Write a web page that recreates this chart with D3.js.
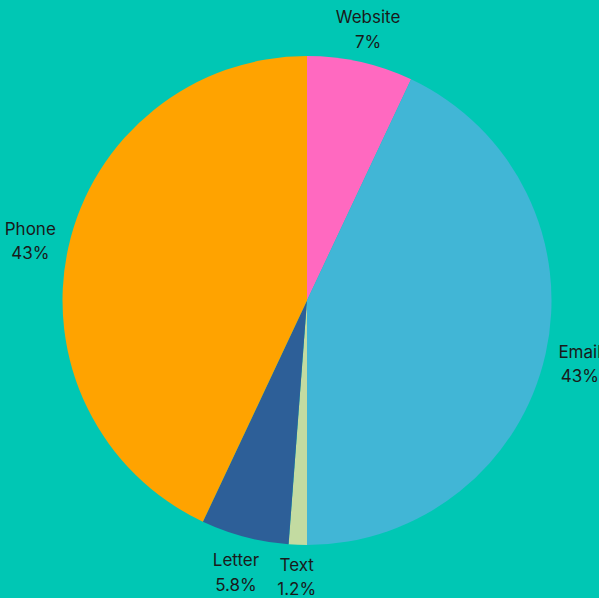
<!DOCTYPE html>
<html>
<head>
<meta charset="utf-8">
<script src="https://cdn.jsdelivr.net/npm/d3@7"></script>
<style>
html,body{margin:0;padding:0;background:#00C7B4;overflow:hidden;}
svg{display:block;}
</style>
</head>
<body>
<svg id="chart" width="599" height="598"></svg>
<script>
const categories = ["Website", "Email", "Text", "Letter", "Phone"];
const values = [7, 43, 1.2, 5.8, 43];
const valueLabels = ["7%", "43%", "1.2%", "5.8%", "43%"];
const colors = ["#FF69C0", "#41B6D6", "#C3DBA1", "#2D5F98", "#FFA300"];

const W = 599, H = 598;
const cx = 307, cy = 300.5, r = 244.5;
const labelGap = 10, labelBoxH = 38;
const svg = d3.select("#chart");
svg.append("rect").attr("width", W).attr("height", H).attr("fill", "#00C7B4");

const data = categories.map((c, i) => ({cat: c, value: values[i], label: valueLabels[i], color: colors[i]}));
const pie = d3.pie().value(d => d.value).sort(null);
const arc = d3.arc().innerRadius(0).outerRadius(r);

const g = svg.append("g").attr("transform", `translate(${cx},${cy})`);
const arcs = pie(data);
g.selectAll("path").data(arcs).join("path")
  .attr("d", arc).attr("fill", d => d.data.color);

const lab = g.selectAll("text.lbl").data(arcs).join("text")
  .attr("class", "lbl")
  .attr("text-anchor", "middle")
  .attr("font-family", "Inter, 'Noto Sans', sans-serif")
  .attr("font-size", 17)
  .attr("fill", "#1a1a1a");
lab.append("tspan").attr("x", 0).attr("y", -12).attr("dy", "0.35em").text(d => d.data.cat);
lab.append("tspan").attr("x", 0).attr("y", 12.3).attr("dy", "0.35em").text(d => d.data.label);

// place each label box just outside the pie along its mid-angle
lab.each(function(d) {
  const w = d3.max(Array.from(this.querySelectorAll("tspan")), t => t.getComputedTextLength());
  const a = (d.startAngle + d.endAngle) / 2;
  const s = Math.sin(a), c = Math.cos(a);
  const dist = r + labelGap + (w / 2) * Math.abs(s) + (labelBoxH / 2) * Math.abs(c);
  d3.select(this).attr("transform", `translate(${dist * s},${-dist * c + 2.2})`);
});
</script>
</body>
</html>
